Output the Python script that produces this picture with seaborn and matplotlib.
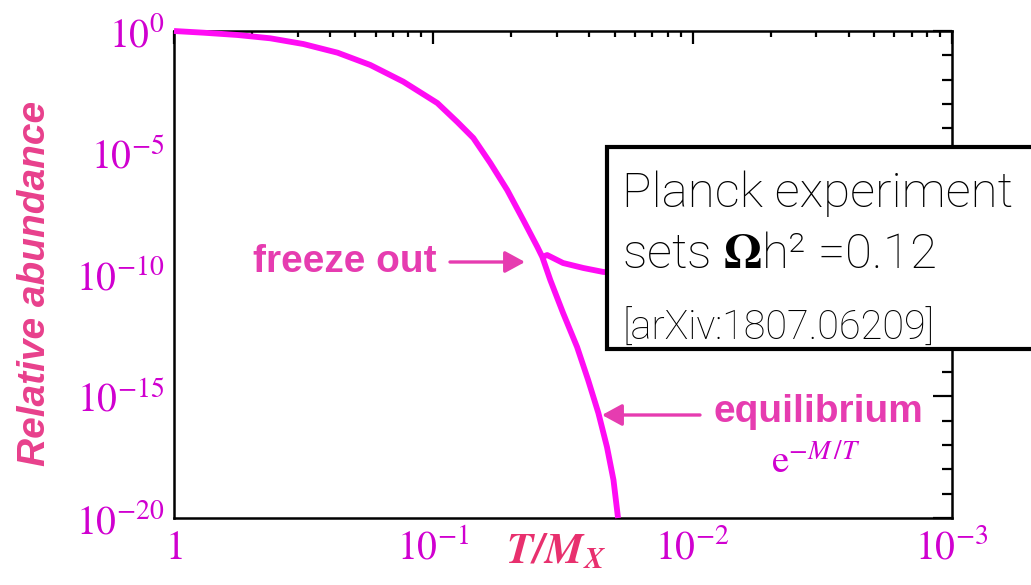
import numpy as np
import pandas as pd
import matplotlib
matplotlib.use("Agg")
import matplotlib.pyplot as plt
from matplotlib.patches import Rectangle
import seaborn as sns

# ---- data ----
# main curve: thermal abundance following equilibrium
t_equil = [1.0, 0.770, 0.569, 0.425, 0.317, 0.234, 0.175, 0.1305, 0.0965,
           0.0808, 0.0701, 0.0603, 0.0519, 0.0450, 0.0397, 0.0380, 0.0354,
           0.0316, 0.0279, 0.0253, 0.0231, 0.0214, 0.0202, 0.0194]
y_equil = [1.0, 0.852, 0.685, 0.501, 0.292, 0.1285, 0.0402, 8.28e-3, 1.10e-3,
           1.83e-4, 4.03e-5, 3.79e-6, 2.95e-7, 1.73e-8, 1.35e-9, 5.24e-10,
           5.94e-11, 2.62e-12, 1.05e-13, 4.65e-15, 2.05e-16, 8.24e-18,
           3.64e-19, 1.0e-20]
# freeze-out branch (relic abundance)
t_freeze = [0.0380, 0.0364, 0.0316, 0.0264, 0.0221, 0.00942, 0.001]
y_freeze = [5.24e-10, 6.3e-10, 2.96e-10, 1.85e-10, 1.27e-10, 9.9e-11, 7.7e-11]

x_major = [1, 0.1, 0.01, 0.001]
x_major_labels = [r"$1$", r"$10^{-1}$", r"$10^{-2}$", r"$10^{-3}$"]
y_major = [1, 1e-5, 1e-10, 1e-15, 1e-20]
y_major_labels = [r"$10^{0}$", r"$10^{-5}$", r"$10^{-10}$", r"$10^{-15}$", r"$10^{-20}$"]

# ---- style ----
sns.set_style("white")
plt.rcParams["mathtext.fontset"] = "stix"
plt.rcParams["font.family"] = ["DejaVu Sans"]

W, H = 1031, 585
fig = plt.figure(figsize=(W / 100, H / 100), dpi=100)
L, R, T, B = 174, 952, 31, 518
ax = fig.add_axes([L / W, 1 - B / H, (R - L) / W, (B - T) / H])

curve_col = "#ff0cf4"
df_eq = pd.DataFrame({"t": t_equil, "y": y_equil})
df_fr = pd.DataFrame({"t": t_freeze, "y": y_freeze})
sns.lineplot(data=df_eq, x="t", y="y", ax=ax, color=curve_col, lw=4.2,
             sort=False, estimator=None, clip_on=False, zorder=3,
             solid_joinstyle="round", solid_capstyle="butt")
sns.lineplot(data=df_fr, x="t", y="y", ax=ax, color=curve_col, lw=4.2,
             sort=False, estimator=None, zorder=3,
             solid_joinstyle="round", solid_capstyle="butt")

ax.set_xscale("log")
ax.set_yscale("log")
ax.set_xlim(1, 1e-3)
ax.set_ylim(1e-20, 1)

ax.set_xticks(x_major)
ax.set_xticklabels(x_major_labels)
ax.set_xticks([1 / (n * 10 ** k) for k in range(3) for n in range(2, 10)], minor=True)
ax.set_yticks(y_major)
ax.set_yticklabels(y_major_labels)
ax.set_yticks([10.0 ** (-k) for k in range(21) if k % 5 != 0], minor=True)
ax.xaxis.set_minor_formatter(matplotlib.ticker.NullFormatter())
ax.yaxis.set_minor_formatter(matplotlib.ticker.NullFormatter())

tick_col = "#d000d0"
ax.tick_params(axis="both", which="both", direction="in", top=True, right=True,
               width=1.6, color="black", labelcolor=tick_col, labelsize=28.5)
ax.tick_params(axis="y", which="major", length=14, pad=7)
ax.tick_params(axis="y", which="minor", length=7.5)
ax.tick_params(axis="x", which="major", length=9, pad=7)
ax.tick_params(axis="x", which="minor", length=4.5)
for s in ax.spines.values():
    s.set_linewidth(1.8)
    s.set_color("black")
ax.set_xlabel("")
ax.set_ylabel("")

# ---- annotations ----
lab_col = "#e63cb0"
def fx(px):
    return (px - L) / (R - L)
def fy(py):
    return (B - py) / (B - T)

ax.text(fx(437), fy(262), "freeze out", transform=ax.transAxes, ha="right",
        va="center", fontsize=28, fontweight="bold", color=lab_col,
        family="Liberation Sans")
ax.annotate("", xy=(fx(525), fy(262)), xytext=(fx(450), fy(262)),
            xycoords="axes fraction", textcoords="axes fraction",
            arrowprops=dict(arrowstyle="-|>,head_length=0.55,head_width=0.3",
                            color=lab_col, lw=2.4, mutation_scale=22,
                            shrinkA=0, shrinkB=0))
ax.text(fx(818), fy(412), "equilibrium", transform=ax.transAxes, ha="center",
        va="center", fontsize=28, fontweight="bold", color=lab_col,
        family="Liberation Sans")
ax.annotate("", xy=(fx(602), fy(415)), xytext=(fx(700), fy(415)),
            xycoords="axes fraction", textcoords="axes fraction",
            arrowprops=dict(arrowstyle="-|>,head_length=0.55,head_width=0.3",
                            color=lab_col, lw=2.4, mutation_scale=22,
                            shrinkA=0, shrinkB=0))
ax.text(fx(816), fy(473), r"$\mathrm{e}^{-M\,/T}$", transform=ax.transAxes,
        ha="center", va="baseline", fontsize=28, color=tick_col)

# axis labels
fig.text(556 / W, 1 - 563 / H, r"$\mathbfit{T/M}_{\mathbfit{X}}$", ha="center",
         va="baseline", fontsize=31, color="#e8306e")
fig.text(35 / W, 1 - 283 / H, "Relative abundance", rotation=90, ha="center",
         va="center", fontsize=28, fontweight="bold", style="italic",
         color="#e8408c", family="Liberation Sans")

# ---- Planck box ----
box = Rectangle((607 / W, 1 - 349 / H), (W + 20 - 607) / W, (349 - 147) / H,
                transform=fig.transFigure, facecolor="white", edgecolor="black",
                lw=3.0, clip_on=False, zorder=10)
fig.add_artist(box)
fig.text(622 / W, 1 - 207 / H, "Planck experiment", ha="left", va="baseline",
         fontsize=35.5, family="Roboto", fontweight="light", color="black", zorder=11)
fig.text(622 / W, 1 - 268 / H, r"sets $\mathbf{\Omega}$h² =0.12", ha="left",
         va="baseline", fontsize=35.5, family="Roboto", fontweight="light",
         color="black", zorder=11)
fig.text(622 / W, 1 - 340 / H, "[arXiv:1807.06209]", ha="left", va="baseline",
         fontsize=28.5, family="Roboto", fontweight="light", color="black", zorder=11)

fig.savefig("out.png", dpi=100)
